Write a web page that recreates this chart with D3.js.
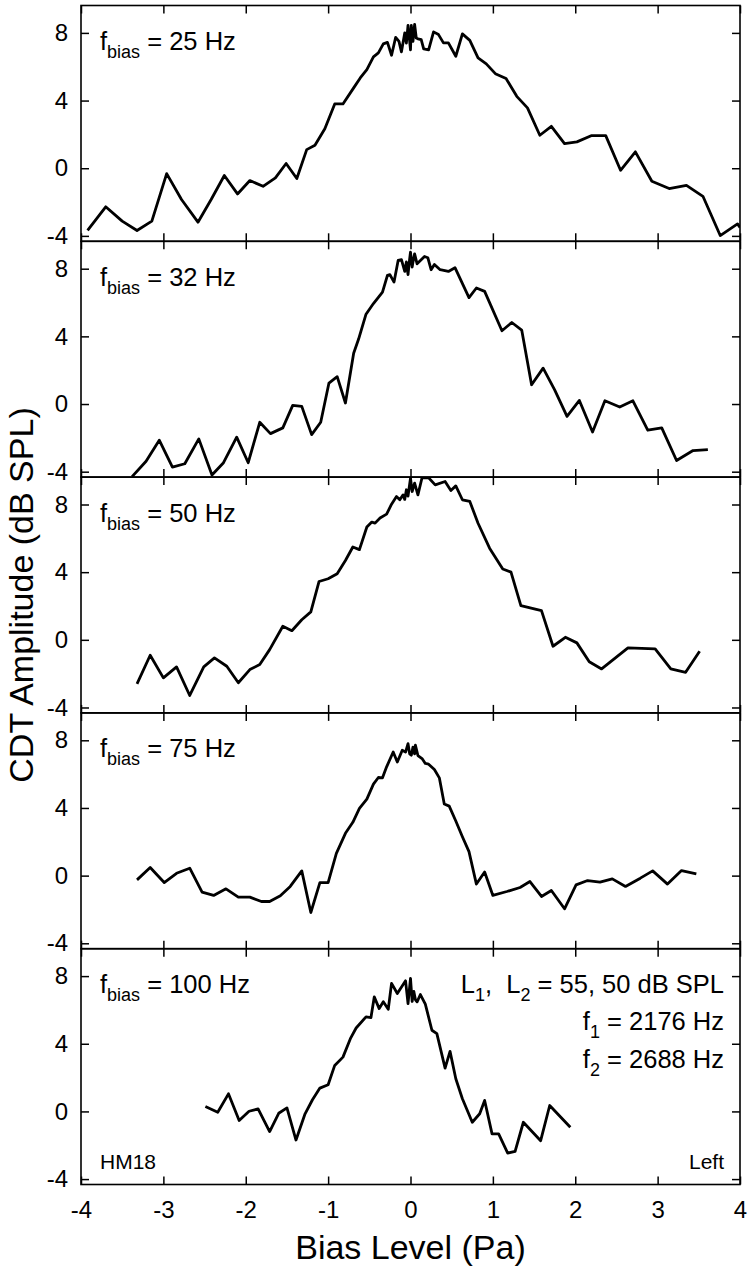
<!DOCTYPE html>
<html><head><meta charset="utf-8">
<script src="https://cdn.jsdelivr.net/npm/d3@7"></script>
<style>
body{margin:0;background:#fff}
svg{display:block}
text{font-family:"Liberation Sans",Arial,Helvetica,sans-serif;fill:#000}
</style>
</head><body>
<svg id="chart" width="750" height="1269"></svg>
<script>
// ---------- data ----------
const xTickValues = [-4, -3, -2, -1, 0, 1, 2, 3, 4];
const yTickValues = [-4, 0, 4, 8];
const biasFrequencies = ["25", "32", "50", "75", "100"];

const curve25Hz = [[-3.92,-3.67],[-3.70,-2.28],[-3.50,-3.13],[-3.32,-3.68],[-3.14,-3.13],[-2.96,-0.32],[-2.78,-1.85],[-2.58,-3.19],[-2.42,-1.85],[-2.26,-0.43],[-2.10,-1.52],[-1.95,-0.73],[-1.79,-1.07],[-1.64,-0.57],[-1.51,0.28],[-1.38,-0.61],[-1.26,1.10],[-1.16,1.36],[-1.04,2.33],[-0.92,3.80],[-0.82,3.80],[-0.69,4.75],[-0.61,5.34],[-0.53,5.83],[-0.45,6.58],[-0.39,6.82],[-0.33,7.35],[-0.28,7.44],[-0.23,6.68],[-0.18,7.74],[-0.14,7.50],[-0.11,6.88],[-0.07,8.00],[-0.05,7.40],[-0.03,8.45],[-0.01,7.50],[0.00,7.00],[0.01,8.45],[0.03,7.50],[0.05,8.50],[0.07,7.70],[0.09,7.65],[0.13,7.60],[0.16,7.05],[0.22,7.00],[0.28,8.06],[0.34,7.90],[0.40,7.41],[0.46,7.41],[0.55,6.62],[0.63,7.94],[0.72,7.56],[0.82,6.52],[0.92,6.17],[1.03,5.59],[1.16,5.30],[1.29,4.25],[1.42,3.57],[1.57,1.95],[1.71,2.48],[1.87,1.46],[2.02,1.56],[2.20,1.93],[2.37,1.93],[2.55,-0.12],[2.73,0.97],[2.93,-0.77],[3.14,-1.20],[3.35,-1.01],[3.55,-1.66],[3.76,-3.98],[3.97,-3.29],[4.00,-3.50]];

const curve32Hz = [[-3.38,-4.29],[-3.21,-3.38],[-3.05,-2.14],[-2.89,-3.73],[-2.74,-3.53],[-2.57,-2.06],[-2.41,-4.20],[-2.27,-3.47],[-2.11,-1.96],[-1.97,-3.47],[-1.83,-1.08],[-1.70,-1.75],[-1.55,-1.41],[-1.43,-0.08],[-1.32,-0.14],[-1.20,-1.81],[-1.09,-1.08],[-0.99,1.24],[-0.89,1.62],[-0.79,0.06],[-0.69,3.00],[-0.63,3.84],[-0.54,5.31],[-0.45,5.94],[-0.34,6.62],[-0.28,7.61],[-0.25,7.65],[-0.20,7.21],[-0.15,8.49],[-0.11,8.53],[-0.07,7.84],[-0.05,8.40],[-0.03,7.65],[-0.01,8.60],[0.00,8.98],[0.02,8.10],[0.03,8.39],[0.05,8.88],[0.08,8.29],[0.17,8.72],[0.21,8.65],[0.25,7.94],[0.29,8.25],[0.36,7.94],[0.46,7.84],[0.54,8.06],[0.71,6.29],[0.80,6.86],[0.90,6.66],[1.11,4.33],[1.23,4.82],[1.35,4.37],[1.47,1.14],[1.61,2.12],[1.75,0.84],[1.90,-0.73],[2.05,0.21],[2.21,-1.65],[2.36,0.19],[2.54,-0.18],[2.70,0.19],[2.88,-1.55],[3.05,-1.41],[3.23,-3.34],[3.43,-2.75],[3.61,-2.69]];

const curve50Hz = [[-3.32,-2.60],[-3.16,-0.91],[-3.00,-2.25],[-2.84,-1.60],[-2.68,-3.29],[-2.51,-1.60],[-2.38,-1.07],[-2.23,-1.56],[-2.09,-2.54],[-1.95,-1.76],[-1.83,-1.46],[-1.71,-0.58],[-1.55,0.80],[-1.44,0.54],[-1.32,1.19],[-1.21,1.65],[-1.11,3.45],[-1.00,3.61],[-0.89,3.91],[-0.79,4.69],[-0.70,5.49],[-0.62,5.33],[-0.53,6.67],[-0.47,6.96],[-0.43,6.90],[-0.37,7.20],[-0.29,7.43],[-0.23,8.02],[-0.17,8.47],[-0.13,8.28],[-0.09,8.57],[-0.07,8.30],[-0.05,8.87],[-0.03,8.50],[0.00,9.55],[0.02,8.77],[0.05,9.26],[0.09,8.57],[0.14,9.58],[0.22,9.58],[0.30,9.16],[0.42,9.36],[0.49,8.83],[0.55,9.10],[0.63,8.28],[0.72,8.18],[0.82,6.89],[0.96,5.42],[1.12,4.19],[1.22,4.00],[1.34,2.02],[1.59,1.73],[1.73,-0.38],[1.88,0.15],[2.02,-0.18],[2.17,-1.30],[2.32,-1.72],[2.64,-0.48],[2.97,-0.54],[3.16,-1.72],[3.34,-1.92],[3.51,-0.68]];

const curve75Hz = [[-3.32,-0.25],[-3.16,0.48],[-2.99,-0.41],[-2.84,0.14],[-2.68,0.44],[-2.53,-0.97],[-2.39,-1.17],[-2.24,-0.78],[-2.09,-1.27],[-1.95,-1.27],[-1.81,-1.53],[-1.71,-1.53],[-1.58,-1.19],[-1.46,-0.64],[-1.32,0.28],[-1.21,-2.18],[-1.10,-0.41],[-1.00,-0.41],[-0.90,1.32],[-0.79,2.50],[-0.70,3.15],[-0.62,3.97],[-0.53,4.52],[-0.45,5.41],[-0.39,5.80],[-0.34,5.78],[-0.29,6.43],[-0.21,7.31],[-0.16,6.72],[-0.10,7.41],[-0.06,7.30],[-0.03,7.80],[-0.01,7.20],[0.01,7.12],[0.03,7.60],[0.05,7.20],[0.06,7.71],[0.09,7.10],[0.14,6.92],[0.18,6.63],[0.22,6.59],[0.29,6.27],[0.35,5.78],[0.41,4.23],[0.47,4.11],[0.55,3.23],[0.63,2.30],[0.71,1.42],[0.80,-0.50],[0.90,0.21],[1.00,-1.17],[1.17,-0.94],[1.33,-0.70],[1.45,-0.35],[1.59,-1.23],[1.71,-0.88],[1.87,-1.96],[2.01,-0.55],[2.15,-0.29],[2.30,-0.39],[2.45,-0.19],[2.61,-0.64],[2.79,-0.15],[2.94,0.28],[3.12,-0.50],[3.29,0.30],[3.47,0.11]];

const curve100Hz = [[-2.49,0.29],[-2.34,-0.05],[-2.21,1.04],[-2.08,-0.54],[-1.96,0.01],[-1.85,0.15],[-1.71,-1.19],[-1.60,-0.11],[-1.50,0.21],[-1.39,-1.69],[-1.28,-0.14],[-1.19,0.69],[-1.10,1.38],[-1.00,1.58],[-0.92,2.72],[-0.82,3.21],[-0.73,4.30],[-0.66,4.93],[-0.54,5.59],[-0.48,5.55],[-0.44,6.77],[-0.38,6.08],[-0.33,6.48],[-0.27,6.04],[-0.23,7.57],[-0.16,6.97],[-0.06,7.72],[-0.03,6.38],[0.00,7.86],[0.02,6.50],[0.04,7.10],[0.06,6.60],[0.08,6.48],[0.12,6.91],[0.18,6.34],[0.26,4.80],[0.32,4.60],[0.42,2.56],[0.48,3.55],[0.55,1.93],[0.63,0.75],[0.75,-0.64],[0.84,-0.14],[0.90,0.65],[0.99,-1.33],[1.07,-1.33],[1.18,-2.46],[1.27,-2.36],[1.37,-0.64],[1.58,-1.73],[1.69,0.35],[1.94,-0.94]];

const curves = [curve25Hz, curve32Hz, curve50Hz, curve75Hz, curve100Hz];
const yDomain = [-4.32, 9.62];

// ---------- layout ----------
const left = 81, right = 740, top0 = 5.5, ph = 235.8;
const svg = d3.select("#chart");
const x = d3.scaleLinear().domain([-4, 4]).range([left, right]);
const fmt = d => String(d);

curves.forEach((data, i) => {
  const t = top0 + i * ph, b = t + ph;
  const y = d3.scaleLinear().domain(yDomain).range([b, t]);
  const g = svg.append("g");

  g.append("clipPath").attr("id", "clip" + i)
    .append("rect").attr("x", left).attr("y", t).attr("width", right - left).attr("height", ph);

  g.append("path").datum(data)
    .attr("clip-path", "url(#clip" + i + ")")
    .attr("fill", "none").attr("stroke", "#000").attr("stroke-width", 2.8)
    .attr("stroke-linejoin", "round")
    .attr("d", d3.line().x(d => x(d[0])).y(d => y(d[1])));

  const styleAxis = sel => {
    sel.select(".domain").remove();
    sel.selectAll(".tick line").attr("stroke", "#000").attr("stroke-width", 1.5);
    sel.selectAll("text").attr("font-size", 24).attr("font-family", '"Liberation Sans",Arial,sans-serif').attr("fill", "#000");
  };

  g.append("g").attr("transform", `translate(${left},0)`)
    .call(d3.axisLeft(y).tickValues(yTickValues).tickSize(-8).tickPadding(13).tickFormat(fmt))
    .call(styleAxis);
  g.append("g").attr("transform", `translate(${right},0)`)
    .call(d3.axisRight(y).tickValues(yTickValues).tickSize(-8).tickFormat(""))
    .call(styleAxis);
  g.append("g").attr("transform", `translate(0,${t})`)
    .call(d3.axisTop(x).tickValues(xTickValues).tickSize(-8).tickFormat(""))
    .call(styleAxis);
  g.append("g").attr("transform", `translate(0,${b})`)
    .call(d3.axisBottom(x).tickValues(xTickValues).tickSize(-8).tickPadding(16)
      .tickFormat(i === curves.length - 1 ? fmt : ""))
    .call(styleAxis);

  g.append("rect").attr("x", left).attr("y", t).attr("width", right - left).attr("height", ph)
    .attr("fill", "none").attr("stroke", "#000").attr("stroke-width", 1.6);

  const lab = g.append("text").attr("x", 100).attr("y", t + 44.5).attr("font-size", 25.5);
  lab.append("tspan").text("f");
  lab.append("tspan").attr("font-size", 18).attr("dy", 8).text("bias");
  lab.append("tspan").attr("dy", -8).text(" = " + biasFrequencies[i] + " Hz");

  if (i === curves.length - 1) {
    const ann = g.append("g").attr("text-anchor", "end").attr("font-size", 25.5);
    const a1 = ann.append("text").attr("x", 724).attr("y", t + 44.5);
    a1.append("tspan").text("L");
    a1.append("tspan").attr("font-size", 18).attr("dy", 8).text("1");
    a1.append("tspan").attr("dy", -8).text(",\u00a0\u00a0L");
    a1.append("tspan").attr("font-size", 18).attr("dy", 8).text("2");
    a1.append("tspan").attr("dy", -8).text(" = 55, 50 dB SPL");
    const a2 = ann.append("text").attr("x", 724).attr("y", t + 81);
    a2.append("tspan").text("f");
    a2.append("tspan").attr("font-size", 18).attr("dy", 8).text("1");
    a2.append("tspan").attr("dy", -8).text(" = 2176 Hz");
    const a3 = ann.append("text").attr("x", 724).attr("y", t + 119);
    a3.append("tspan").text("f");
    a3.append("tspan").attr("font-size", 18).attr("dy", 8).text("2");
    a3.append("tspan").attr("dy", -8).text(" = 2688 Hz");
    g.append("text").attr("x", 100).attr("y", t + 220).attr("font-size", 21).text("HM18");
    g.append("text").attr("x", 724).attr("y", t + 220).attr("font-size", 21).attr("text-anchor", "end").text("Left");
  }
});

svg.append("text").attr("x", (left + right) / 2).attr("y", 1259)
  .attr("text-anchor", "middle").attr("font-size", 34).text("Bias Level (Pa)");
svg.append("text").attr("transform", "translate(33,595) rotate(-90)")
  .attr("text-anchor", "middle").attr("font-size", 34).text("CDT Amplitude (dB SPL)");
</script>
</body></html>
